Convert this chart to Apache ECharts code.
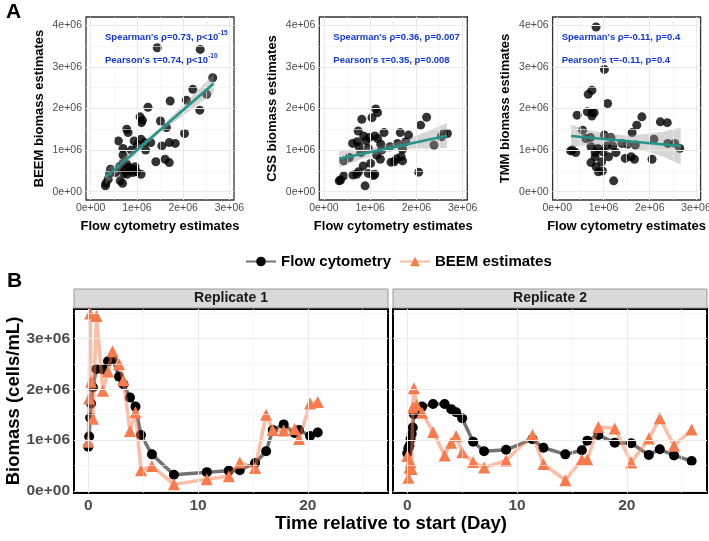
<!DOCTYPE html>
<html><head><meta charset="utf-8">
<script src="https://cdn.jsdelivr.net/npm/echarts@6/dist/echarts.min.js"></script>
<style>html,body{margin:0;padding:0;background:#fff}#chart{width:709px;height:541px}</style>
</head><body><div id="chart"></div>
<script>
// ---------- DATA (biomass values in units of 1e6 cells/mL) ----------
// Panel A: scatter plots (x = flow cytometry estimate)
const beemX = [1.44,2.37,2.64,2.21,2.07,2.51,2.36,1.72,1.24,1.07,1.12,1.10,1.51,1.64,0.78,0.81,2.03,0.60,0.94,1.09,1.01,1.17,1.30,0.70,0.88,1.19,1.54,1.70,1.83,0.70,1.41,1.61,1.70,0.43,0.54,0.63,0.70,0.78,0.83,0.74,0.85,0.96,0.99,1.09,0.72,0.79,0.41,0.38,0.33,0.32,0.64,0.69,0.91,0.93];
const beemY = [3.46,3.42,2.74,2.46,2.20,2.34,1.96,2.18,2.03,1.80,1.72,1.66,1.70,1.54,1.50,1.42,1.40,1.22,1.22,1.26,1.12,1.18,1.18,1.04,1.00,1.00,1.10,1.18,1.16,0.88,0.72,0.78,0.70,0.54,0.46,0.60,0.68,0.66,0.58,0.52,0.50,0.60,0.48,0.42,0.44,0.42,0.44,0.30,0.20,0.14,0.26,0.20,0.46,0.54];
const cssX = [1.12,1.16,1.04,0.82,2.22,2.09,0.74,1.30,1.65,1.83,2.59,2.67,2.54,2.38,0.86,0.98,1.10,1.16,0.62,0.72,0.91,1.23,1.43,1.59,1.77,0.76,0.96,1.25,0.80,1.14,1.22,1.70,1.67,1.52,1.45,1.70,1.57,0.43,0.55,0.85,1.01,0.63,0.71,0.75,0.96,1.07,1.10,0.43,0.36,0.33,0.89,2.05];
const cssY = [1.99,1.90,1.78,1.74,1.79,1.60,1.46,1.42,1.42,1.36,1.40,1.40,1.32,1.12,1.34,1.30,1.34,1.28,1.16,1.20,1.22,1.14,1.08,1.16,1.20,1.08,1.04,1.00,0.94,0.88,0.78,1.02,0.84,0.72,0.71,0.74,0.79,0.74,0.82,0.62,0.68,0.40,0.42,0.48,0.44,0.39,0.42,0.38,0.28,0.26,0.14,0.47];
const tmmX = [0.84,1.02,0.75,0.67,1.09,0.43,0.65,0.75,0.80,0.75,1.83,1.72,2.23,2.38,1.62,0.55,0.62,0.72,1.02,1.16,2.09,0.73,0.88,1.07,1.20,1.40,1.52,1.69,2.39,2.54,2.65,0.33,0.40,0.82,0.99,1.27,0.82,1.11,1.47,1.60,1.67,2.05,0.96,0.73,0.84,0.89,0.98,1.22,0.29];
const tmmY = [3.96,2.94,2.44,2.34,2.12,1.84,1.92,1.90,1.90,1.82,1.80,1.60,1.68,1.66,1.42,1.48,1.28,1.30,1.36,1.30,1.26,1.08,1.04,1.10,1.10,1.16,1.14,1.12,1.16,1.16,1.04,1.00,0.94,0.94,0.96,0.94,0.84,0.84,0.80,0.84,0.78,0.78,0.72,0.70,0.60,0.48,0.50,0.26,0.98];

// Linear fits and 95% confidence bands
const beemFitX = [0.32,2.66], beemFitY = [0.34,2.60];
const beemBandX = [0.32,0.70,1.10,1.50,1.90,2.30,2.66];
const beemBandLo = [0.17,0.60,1.02,1.41,1.75,2.08,2.37];
const beemBandHi = [0.51,0.82,1.16,1.55,1.97,2.42,2.83];
const cssFitX = [0.33,2.66], cssFitY = [0.79,1.345];
const cssBandX = [0.33,0.70,1.10,1.50,1.90,2.30,2.66];
const cssBandLo = [0.58,0.74,0.89,0.98,1.03,1.04,1.05];
const cssBandHi = [1.00,1.02,1.07,1.16,1.30,1.48,1.65];
const tmmFitX = [0.30,2.67], tmmFitY = [1.34,1.10];
const tmmBandX = [0.30,0.70,1.10,1.50,1.90,2.30,2.67];
const tmmBandLo = [1.07,1.12,1.13,1.09,0.98,0.84,0.65];
const tmmBandHi = [1.61,1.48,1.39,1.35,1.38,1.44,1.55];

const yTitles = ['BEEM biomass estimates','CSS biomass estimates','TMM biomass estimates'];
const xTitleA = 'Flow cytometry estimates';
const spearmanText = ["Spearman's ρ=0.73, p<10{sup|-15}","Spearman's ρ=0.36, p=0.007","Spearman's ρ=-0.11, p=0.4"];
const pearsonText  = ["Pearson's τ=0.74, p<10{sup|-10}","Pearson's τ=0.35, p=0.008","Pearson's τ=-0.11, p=0.4"];

// Panel B: time series
const rep1Day  = [0.0,0.08,0.17,0.25,0.42,0.75,1.33,1.8,2.2,2.8,3.2,3.8,4.3,4.8,5.8,7.8,10.8,12.8,13.8,15.2,16.2,16.8,17.8,18.8,19.2,20.2,20.9];
const rep1Flow = [0.87,1.07,1.44,1.72,2.04,2.40,2.39,2.55,2.60,2.25,2.10,1.84,1.66,1.10,0.72,0.32,0.37,0.40,0.41,0.55,0.78,1.20,1.31,1.14,1.20,1.08,1.15];
const rep1Beem = [0.97,1.82,3.49,2.15,1.42,3.44,1.97,2.35,2.75,2.50,2.18,1.18,1.55,0.41,0.49,0.13,0.23,0.29,0.56,0.45,1.50,1.20,1.19,1.22,1.02,1.72,1.75];
const rep2Day  = [0.0,0.1,0.2,0.3,0.4,0.5,0.6,0.85,1.35,2.35,3.4,4.0,4.45,5.0,6.0,7.0,9.0,11.4,12.4,14.4,15.9,16.4,17.4,18.9,20.4,22.0,23.0,24.3,25.9];
const rep2Flow = [0.74,0.84,0.89,1.02,1.12,1.25,1.51,1.55,1.66,1.71,1.71,1.61,1.55,1.43,0.97,0.78,0.81,1.02,0.85,0.72,0.80,0.99,1.10,0.95,0.94,0.71,0.82,0.70,0.59];
const rep2Beem = [0.69,0.26,0.46,0.56,0.43,1.64,2.02,1.69,1.54,1.16,0.70,0.95,1.08,0.76,0.57,0.46,0.60,1.10,0.53,0.21,0.62,0.62,1.26,1.23,0.56,1.03,1.43,0.89,1.21];
const replicateNames = ['Replicate 1','Replicate 2'];
const seriesNames = ['Flow cytometry','BEEM estimates'];

// Tick values / labels
const scatterXTicks = [0,1,2,3], scatterXTickLabels = ['0e+00','1e+06','2e+06','3e+06'];
const scatterYTicks = [0,1,2,3,4], scatterYTickLabels = ['0e+00','1e+06','2e+06','3e+06','4e+06'];
const scatterXMinor = [0.5,1.5,2.5], scatterYMinor = [0.5,1.5,2.5,3.5];
const dayTicks = [0,10,20], dayTickLabels = ['0','10','20'], dayMinor = [5,15,25];
const bioTicks = [0,1,2,3], bioTickLabels = ['0e+00','1e+06','2e+06','3e+06'], bioMinor = [0.5,1.5,2.5,3.5];

// ---------- LAYOUT / STYLE ----------
const FONT = '"Liberation Sans", Arial, Helvetica, sans-serif';
const A_TOP = 17, A_H = 183, A_W = 148, A_LEFTS = [86, 319.3, 552.6];
const A_XMIN = -0.1, A_XMAX = 3.1, A_YMIN = -0.2, A_YMAX = 4.2;
const B_TOP = 309, B_H = 184, B_W = 314, B_LEFTS = [74, 393];
const B_XMIN = -1.3, B_XMAX = 27.3, B_YMIN = -0.04, B_YMAX = 3.58;
const BLUE = '#1236E6';

const zip = (a, b) => a.map((v, i) => [v, b[i]]);

function axisCfg(gi, min, max, ticks, labels, lab, show) {
  return {
    gridIndex: gi, type: 'value', min, max,
    axisLine: { show: false },
    axisTick: { show: show, customValues: ticks, length: 3, lineStyle: { color: '#333', width: 1 } },
    axisLabel: { show: show, customValues: ticks, formatter: v => { const k = ticks.indexOf(v); return k >= 0 ? labels[k] : ''; },
      color: '#4D4D4D', fontFamily: FONT, fontSize: lab.fontSize, fontWeight: lab.fontWeight, margin: lab.margin },
    splitLine: { show: false }, minorSplitLine: { show: false }
  };
}
function gridLines(gi, xMaj, xMin, yMaj, yMin) {
  const d = [];
  xMin.forEach(v => d.push({ xAxis: v, lineStyle: { width: 0.6, color: '#F2F2F2' } }));
  yMin.forEach(v => d.push({ yAxis: v, lineStyle: { width: 0.6, color: '#F2F2F2' } }));
  xMaj.forEach(v => d.push({ xAxis: v, lineStyle: { width: 1, color: '#EBEBEB' } }));
  yMaj.forEach(v => d.push({ yAxis: v, lineStyle: { width: 1, color: '#EBEBEB' } }));
  return { type: 'line', name: '_grid' + gi, xAxisIndex: gi, yAxisIndex: gi, data: [], silent: true, z: 1,
    markLine: { silent: true, symbol: ['none', 'none'], label: { show: false }, animation: false,
      emphasis: { disabled: true }, lineStyle: { type: 'solid' }, data: d } };
}

const grids = [], xAxes = [], yAxes = [], series = [], graphics = [];

const scatterPanels = [
  { x: beemX, y: beemY, fx: beemFitX, fy: beemFitY, bx: beemBandX, lo: beemBandLo, hi: beemBandHi },
  { x: cssX, y: cssY, fx: cssFitX, fy: cssFitY, bx: cssBandX, lo: cssBandLo, hi: cssBandHi },
  { x: tmmX, y: tmmY, fx: tmmFitX, fy: tmmFitY, bx: tmmBandX, lo: tmmBandLo, hi: tmmBandHi }
];
const labA = { fontSize: 10.5, fontWeight: 'normal', margin: 3 };
scatterPanels.forEach((p, i) => {
  const left = A_LEFTS[i];
  grids.push({ left, top: A_TOP, width: A_W, height: A_H, show: true, borderColor: '#333', borderWidth: 1.3,
    backgroundColor: 'transparent', containLabel: false, outerBoundsMode: 'none' });
  xAxes.push(axisCfg(i, A_XMIN, A_XMAX, scatterXTicks, scatterXTickLabels, labA, true));
  yAxes.push(axisCfg(i, A_YMIN, A_YMAX, scatterYTicks, scatterYTickLabels, { fontSize: 10.5, fontWeight: 'normal', margin: 4 }, true));
  series.push(gridLines(i, scatterXTicks, scatterXMinor, scatterYTicks, scatterYMinor));
  series.push({ type: 'scatter', name: '_pts' + i, xAxisIndex: i, yAxisIndex: i, data: zip(p.x, p.y),
    symbolSize: 9, itemStyle: { color: '#000' }, z: 3, silent: true });
  const band = p.bx.map((v, k) => [v, p.lo[k], p.hi[k]]);
  series.push({ type: 'custom', name: '_band' + i, xAxisIndex: i, yAxisIndex: i, data: band, z: 4, silent: true,
    encode: { x: 0, y: [1, 2] },
    renderItem: (params, api) => {
      if (params.dataIndex !== 0) return null;
      const up = band.map(b => api.coord([b[0], b[2]]));
      const dn = band.map(b => api.coord([b[0], b[1]])).reverse();
      return { type: 'polygon', shape: { points: up.concat(dn) }, style: { fill: 'rgba(153,153,153,0.4)' } };
    } });
  series.push({ type: 'line', name: '_fit' + i, xAxisIndex: i, yAxisIndex: i, data: zip(p.fx, p.fy),
    symbol: 'none', showSymbol: false, lineStyle: { color: '#23958A', width: 2.5 }, z: 5, silent: true });
  // titles & annotations
  graphics.push({ type: 'text', x: left - 47, y: A_TOP + A_H / 2, rotation: Math.PI / 2,
    style: { text: yTitles[i], fill: '#000', font: 'bold 13px ' + FONT, align: 'center', verticalAlign: 'middle' } });
  graphics.push({ type: 'text', x: left + A_W / 2, y: 226,
    style: { text: xTitleA, fill: '#000', font: 'bold 13px ' + FONT, align: 'center', verticalAlign: 'middle' } });
  const annX = [105, 333.3, 561.7][i];
  const rich = { sup: { fill: BLUE, fontSize: 6.5, fontWeight: 'bold', fontFamily: FONT, padding: [0, 0, 7, 0] } };
  graphics.push({ type: 'text', x: annX, y: 37, z: 10,
    style: { text: spearmanText[i], fill: BLUE, font: 'bold 9.5px ' + FONT, align: 'left', verticalAlign: 'middle', rich } });
  graphics.push({ type: 'text', x: annX, y: 60, z: 10,
    style: { text: pearsonText[i], fill: BLUE, font: 'bold 9.5px ' + FONT, align: 'left', verticalAlign: 'middle', rich } });
});

// Panel B
const reps = [
  { day: rep1Day, flow: rep1Flow, beem: rep1Beem },
  { day: rep2Day, flow: rep2Flow, beem: rep2Beem }
];
reps.forEach((r, j) => {
  const gi = 3 + j, left = B_LEFTS[j];
  grids.push({ left, top: B_TOP, width: B_W, height: B_H, show: true, borderColor: '#000', borderWidth: 2,
    backgroundColor: 'transparent', containLabel: false, outerBoundsMode: 'none' });
  xAxes.push(axisCfg(gi, B_XMIN, B_XMAX, dayTicks, dayTickLabels, { fontSize: 15.5, fontWeight: 'bold', margin: 5 }, true));
  yAxes.push(axisCfg(gi, B_YMIN, B_YMAX, bioTicks, bioTickLabels, { fontSize: 15.5, fontWeight: 'bold', margin: 4 }, j === 0));
  series.push(gridLines(gi, dayTicks, dayMinor, bioTicks, bioMinor));
  series.push({ type: 'line', name: seriesNames[0], xAxisIndex: gi, yAxisIndex: gi, data: zip(r.day, r.flow),
    symbol: 'circle', symbolSize: 10, showSymbol: true, itemStyle: { color: '#000' },
    lineStyle: { color: 'rgba(0,0,0,0.55)', width: 3.5 }, z: 3, silent: true });
  series.push({ type: 'line', name: seriesNames[1], xAxisIndex: gi, yAxisIndex: gi, data: zip(r.day, r.beem),
    symbol: 'triangle', symbolSize: 12, showSymbol: true, itemStyle: { color: '#F97A4C' },
    lineStyle: { color: 'rgba(250,122,76,0.5)', width: 3.5 }, z: 4, silent: true });
  graphics.push({ type: 'rect', shape: { x: left, y: 289, width: B_W, height: 19 },
    style: { fill: '#D9D9D9', stroke: '#9A9A9A', lineWidth: 1 } });
  graphics.push({ type: 'text', x: left + B_W / 2, y: 298.5,
    style: { text: replicateNames[j], fill: '#1A1A1A', font: 'bold 14px ' + FONT, align: 'center', verticalAlign: 'middle' } });
});
graphics.push({ type: 'text', x: 14, y: 401, rotation: Math.PI / 2,
  style: { text: 'Biomass (cells/mL)', fill: '#000', font: 'bold 18.5px ' + FONT, align: 'center', verticalAlign: 'middle' } });
graphics.push({ type: 'text', x: 391, y: 524,
  style: { text: 'Time relative to start (Day)', fill: '#000', font: 'bold 18.5px ' + FONT, align: 'center', verticalAlign: 'middle' } });
graphics.push({ type: 'text', x: 6, y: 12, style: { text: 'A', fill: '#000', font: 'bold 21px ' + FONT, align: 'left', verticalAlign: 'middle' } });
graphics.push({ type: 'text', x: 7, y: 281, style: { text: 'B', fill: '#000', font: 'bold 21px ' + FONT, align: 'left', verticalAlign: 'middle' } });

const chart = echarts.init(document.getElementById('chart'), null, { renderer: 'canvas' });
chart.setOption({
  backgroundColor: '#fff',
  animation: false,
  grid: grids, xAxis: xAxes, yAxis: yAxes, series,
  legend: { data: seriesNames, left: 240, top: 249, itemWidth: 30, itemHeight: 12, itemGap: 8,
    textStyle: { fontFamily: FONT, fontSize: 15, fontWeight: 'bold', color: '#000' }, selectedMode: false },
  graphic: graphics
});
</script></body></html>
